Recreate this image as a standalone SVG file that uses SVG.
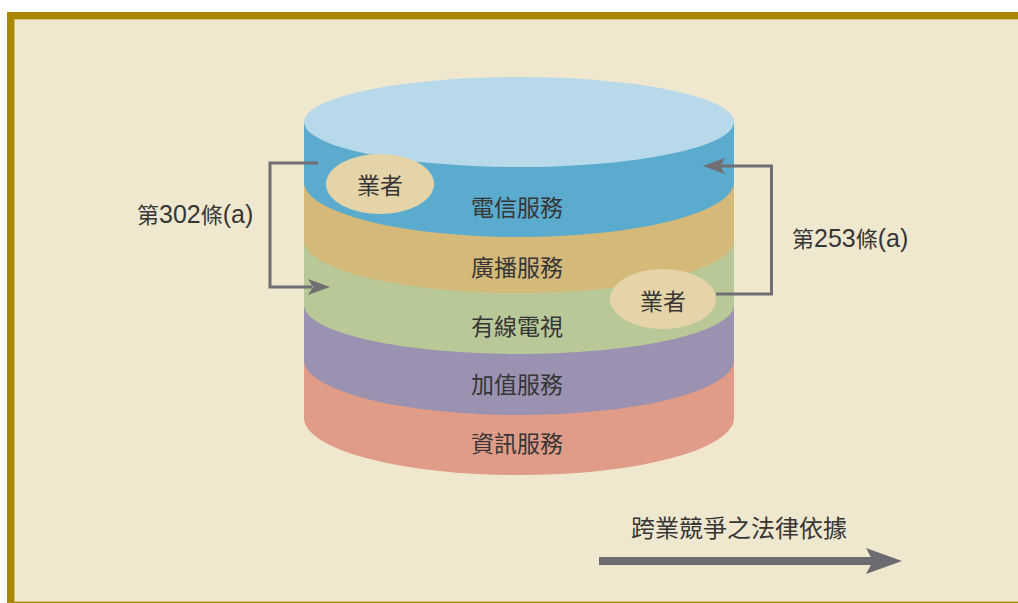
<svg xmlns="http://www.w3.org/2000/svg" width="1018" height="603" viewBox="0 0 1018 603">
  <defs>
    <style>
      .cjk { font-family: "Noto Sans CJK TC", "Noto Sans CJK SC", sans-serif; fill: #363636; }
      .lbl { font-size: 23px; text-anchor: middle; }
      .lat { font-family: "Liberation Sans", Arial, sans-serif; font-size: 25px; }
      .conn { fill: none; stroke: #6f6f74; stroke-width: 3; }
      .head { fill: #6f6f74; }
    </style>
  </defs>
  <rect x="0" y="0" width="1018" height="603" fill="#ffffff"/>
  <g id="frame">
    <rect x="7" y="12" width="1030" height="595" fill="#a98700"/>
    <rect x="14.5" y="19.5" width="1020" height="582" fill="#f0e7cf" stroke="#d9c17c" stroke-width="1"/>
  </g>
  <g id="cylinder">
    <g id="layer-info">
      <path d="M304,122 L304,418 A215,57 0 0 0 734,418 L734,122 Z" fill="#e09c86"/>
      <text class="cjk lbl" x="517" y="452">資訊服務</text>
    </g>
    <g id="layer-value">
      <path d="M304,122 L304,360 A215,55 0 0 0 734,360 L734,122 Z" fill="#9b91b1"/>
      <text class="cjk lbl" x="517" y="393">加值服務</text>
    </g>
    <g id="layer-cable">
      <path d="M304,122 L304,305 A215,49 0 0 0 734,305 L734,122 Z" fill="#b8c896"/>
      <text class="cjk lbl" x="517" y="335">有線電視</text>
    </g>
    <g id="layer-broadcast">
      <path d="M304,122 L304,240 A215,53 0 0 0 734,240 L734,122 Z" fill="#d4b978"/>
      <text class="cjk lbl" x="517" y="276">廣播服務</text>
    </g>
    <g id="layer-telecom">
      <path d="M304,122 L304,182 A215,55 0 0 0 734,182 L734,122 Z" fill="#5aabcd"/>
      <text class="cjk lbl" x="517" y="216">電信服務</text>
    </g>
    <ellipse id="cyl-top" cx="519" cy="122" rx="215" ry="45" fill="#b8d9ea"/>
  </g>
  <g id="operator-left">
    <ellipse cx="380" cy="184" rx="54" ry="30" fill="#e4d4a8"/>
    <text class="cjk lbl" x="380" y="194">業者</text>
  </g>
  <g id="operator-right">
    <ellipse cx="663" cy="299" rx="53" ry="30" fill="#e4d4a8"/>
    <text class="cjk lbl" x="663" y="310">業者</text>
  </g>
  <g id="connectors">
    <polyline class="conn" points="318,163 270,163 270,287 312,287"/>
    <path class="head" d="M330,287 L308,279 L313,287 L308,295 Z"/>
    <polyline class="conn" points="716,294 771.5,294 771.5,166 720,166"/>
    <path class="head" d="M703,166 L725,158 L720,166 L725,174 Z"/>
    <line x1="599" y1="561" x2="876" y2="561" stroke="#6b6b70" stroke-width="8"/>
    <path d="M902,561 L866,548 L873,561 L866,574 Z" fill="#6b6b70"/>
  </g>
  <g id="label-302">
    <text class="cjk" x="137" y="223" font-size="22">第<tspan class="lat">302</tspan>條<tspan class="lat">(a)</tspan></text>
  </g>
  <g id="label-253">
    <text class="cjk" x="792" y="247" font-size="22">第<tspan class="lat">253</tspan>條<tspan class="lat">(a)</tspan></text>
  </g>
  <g id="label-title">
    <text class="cjk" x="631" y="537" font-size="24">跨業競爭之法律依據</text>
  </g>
</svg>
